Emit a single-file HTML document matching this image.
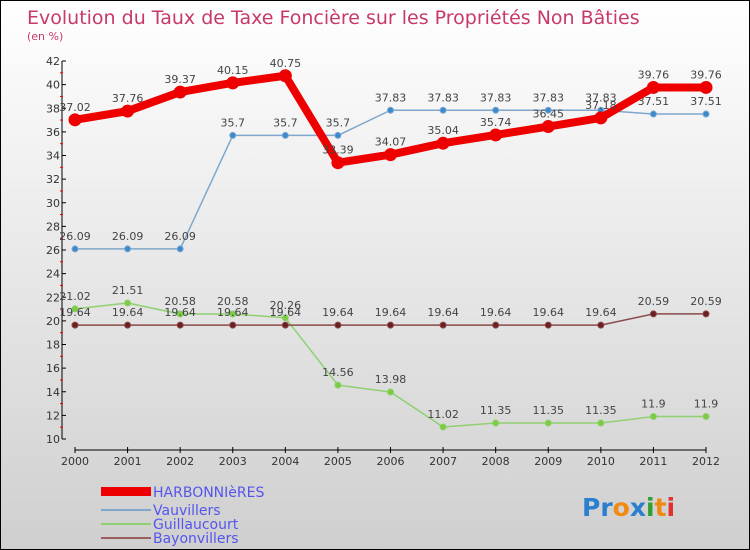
<!DOCTYPE html>
<html><head><meta charset="utf-8"><style>
body{margin:0}
#c{width:750px;height:550px;position:relative;overflow:hidden}
svg text{font-family:"DejaVu Sans","Liberation Sans",sans-serif}
</style></head><body>
<div id="c">
<svg id="s" width="750" height="550" xmlns="http://www.w3.org/2000/svg">
<defs><linearGradient id="bg" x1="0" y1="0" x2="0" y2="1"><stop offset="0" stop-color="#ffffff"/><stop offset="1" stop-color="#cfcfcf"/></linearGradient></defs>
<rect x="0.5" y="0.5" width="749" height="549" fill="url(#bg)" stroke="#000"/>
<text x="27" y="24" font-size="19" fill="#c8386a">Evolution du Taux de Taxe Foncière sur les Propriétés Non Bâties</text>
<text x="27" y="40" font-size="11" fill="#c8386a">(en %)</text>
<g id="axes"></g><g id="series"></g>
<g>
<rect x="101" y="487" width="50" height="9" fill="#e00"/>
<text x="153" y="497" font-size="14" fill="#5555ee">HARBONNIèRES</text>
<line x1="101" y1="510" x2="151" y2="510" stroke="#7fa7cc" stroke-width="2"/>
<text x="153" y="515" font-size="14" fill="#5555ee">Vauvillers</text>
<line x1="101" y1="524" x2="151" y2="524" stroke="#8fd070" stroke-width="2"/>
<text x="153" y="529" font-size="14" fill="#5555ee">Guillaucourt</text>
<line x1="101" y1="538" x2="151" y2="538" stroke="#9a6060" stroke-width="2"/>
<text x="153" y="543" font-size="14" fill="#5555ee">Bayonvillers</text>
</g>
<text x="582" y="516" font-size="25" font-weight="bold"><tspan fill="#2a7fd0">Pr</tspan><tspan fill="#f08a10">o</tspan><tspan fill="#2a7fd0">x</tspan><tspan fill="#30a030">i</tspan><tspan fill="#f08a10">t</tspan><tspan fill="#e03030">i</tspan></text>
</svg></div>
<script>
const years=[2000,2001,2002,2003,2004,2005,2006,2007,2008,2009,2010,2011,2012];
const harbonnieres=[37.02,37.76,39.37,40.15,40.75,33.39,34.07,35.04,35.74,36.45,37.18,39.76,39.76];
const vauvillers=[26.09,26.09,26.09,35.7,35.7,35.7,37.83,37.83,37.83,37.83,37.83,37.51,37.51];
const guillaucourt=[21.02,21.51,20.58,20.58,20.26,14.56,13.98,11.02,11.35,11.35,11.35,11.9,11.9];
const bayonvillers=[19.64,19.64,19.64,19.64,19.64,19.64,19.64,19.64,19.64,19.64,19.64,20.59,20.59];
const yTicks=[10,12,14,16,18,20,22,24,26,28,30,32,34,36,38,40,42];
const NS="http://www.w3.org/2000/svg";
function X(i){return 75+i*(706-75)/(years.length-1);}
function Y(v){return 439-(v-10)*(439-61)/32;}
function mk(t,a,p){const e=document.createElementNS(NS,t);for(const k in a)e.setAttribute(k,a[k]);p.appendChild(e);return e;}
const ax=document.getElementById('axes');
const yl=mk('line',{x1:62,y1:61,x2:62,y2:439,stroke:'#000'},ax);


yTicks.forEach((v,k)=>{mk('line',{x1:62,y1:Y(v),x2:66,y2:Y(v),stroke:'#000'},ax);
 if(k<yTicks.length-1)mk('line',{x1:60,y1:Y(v+1),x2:63,y2:Y(v+1),stroke:'#e00'},ax);
 const t=mk('text',{x:60,y:Y(v)+4,'font-size':11,'text-anchor':'end',fill:'#333'},ax);t.textContent=v;
 
 });
const xl=mk('line',{x1:75,y1:450,x2:706,y2:450,stroke:'#000'},ax);


years.forEach((y,i)=>{mk('line',{x1:X(i),y1:447,x2:X(i),y2:453,stroke:'#000'},ax);
 const t=mk('text',{x:X(i),y:465,'font-size':11,'text-anchor':'middle',fill:'#333'},ax);t.textContent=y;
 
 });
const sg=document.getElementById('series');
function series(vals,name,col,fill,w,r){
 const g=mk('g',{},sg);
 
 
 mk('polyline',{points:vals.map((v,i)=>X(i)+','+Y(v)).join(' '),fill:'none',stroke:col,'stroke-width':w,'stroke-linejoin':'round'},g);
 vals.forEach((v,i)=>{const c=mk('circle',{cx:X(i),cy:Y(v),r:r,fill:fill,stroke:col,'stroke-width':1},g);
  
  
  const t=mk('text',{x:X(i),y:Y(v)-9,'font-size':11,'text-anchor':'middle',fill:'#444'},g);t.textContent=v;
  
  });
}
series(vauvillers,'vauvillers-series','#7fa7cc','#3a8ad0',1.5,3);
series(guillaucourt,'guillaucourt-series','#8fd070','#7ccc40',1.5,3);
series(bayonvillers,'bayonvillers-series','#8a4a4a','#6a2020',1.5,3);
series(harbonnieres,'harbonnieres-series','#e00','#e00',8,6);
</script></body></html>
